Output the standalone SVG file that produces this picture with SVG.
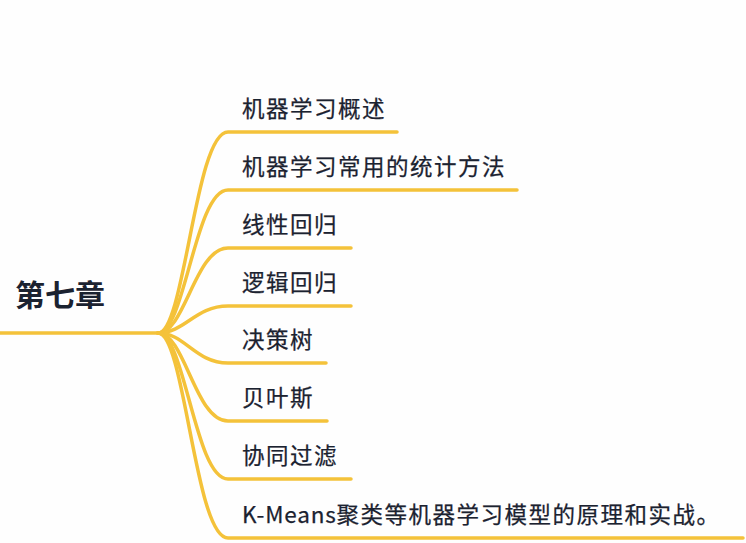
<svg xmlns="http://www.w3.org/2000/svg" width="746" height="543" viewBox="0 0 746 543">
<style>
.bg{fill:#fefefe}
.ln{fill:none;stroke:#F4C23A;stroke-width:3.5;stroke-linecap:round}
.t{font-family:"Noto Sans CJK SC","Noto Sans",sans-serif;font-size:22.5px;fill:#1b2230;letter-spacing:1.5px;stroke:#1b2230;stroke-width:0.25}
.lat{letter-spacing:0.8px}
.root{font-family:"Noto Sans CJK SC","Noto Sans",sans-serif;font-size:30px;font-weight:bold;fill:#1b2230}
</style>
<rect class="bg" x="0" y="0" width="746" height="543"/>
<g id="connectors">
<path class="ln" d="M0,333 L158,333"/>
<path class="ln" d="M158,333 C185,333 195,132 228,132 L397,132"/>
<path class="ln" d="M158,333 C185,333 195,190 228,190 L517,190"/>
<path class="ln" d="M158,333 C185,333 195,248 228,248 L351,248"/>
<path class="ln" d="M158,333 C185,333 195,306 228,306 L351,306"/>
<path class="ln" d="M158,333 C185,333 195,363 228,363 L326,363"/>
<path class="ln" d="M158,333 C185,333 195,421 228,421 L327,421"/>
<path class="ln" d="M158,333 C185,333 195,479 228,479 L351,479"/>
<path class="ln" d="M158,333 C185,333 195,538 228,538 L743,538"/>
</g>
<g id="root"><text class="root" x="15" y="306">第七章</text></g>
<g id="n1"><text class="t" x="242" y="117">机器学习概述</text></g>
<g id="n2"><text class="t" x="242" y="175">机器学习常用的统计方法</text></g>
<g id="n3"><text class="t" x="242" y="233">线性回归</text></g>
<g id="n4"><text class="t" x="242" y="291">逻辑回归</text></g>
<g id="n5"><text class="t" x="242" y="348">决策树</text></g>
<g id="n6"><text class="t" x="242" y="406">贝叶斯</text></g>
<g id="n7"><text class="t" x="242" y="464">协同过滤</text></g>
<g id="n8"><text class="t" x="242" y="523"><tspan class="lat">K-Means</tspan>聚类等机器学习模型的原理和实战。</text></g>
</svg>
